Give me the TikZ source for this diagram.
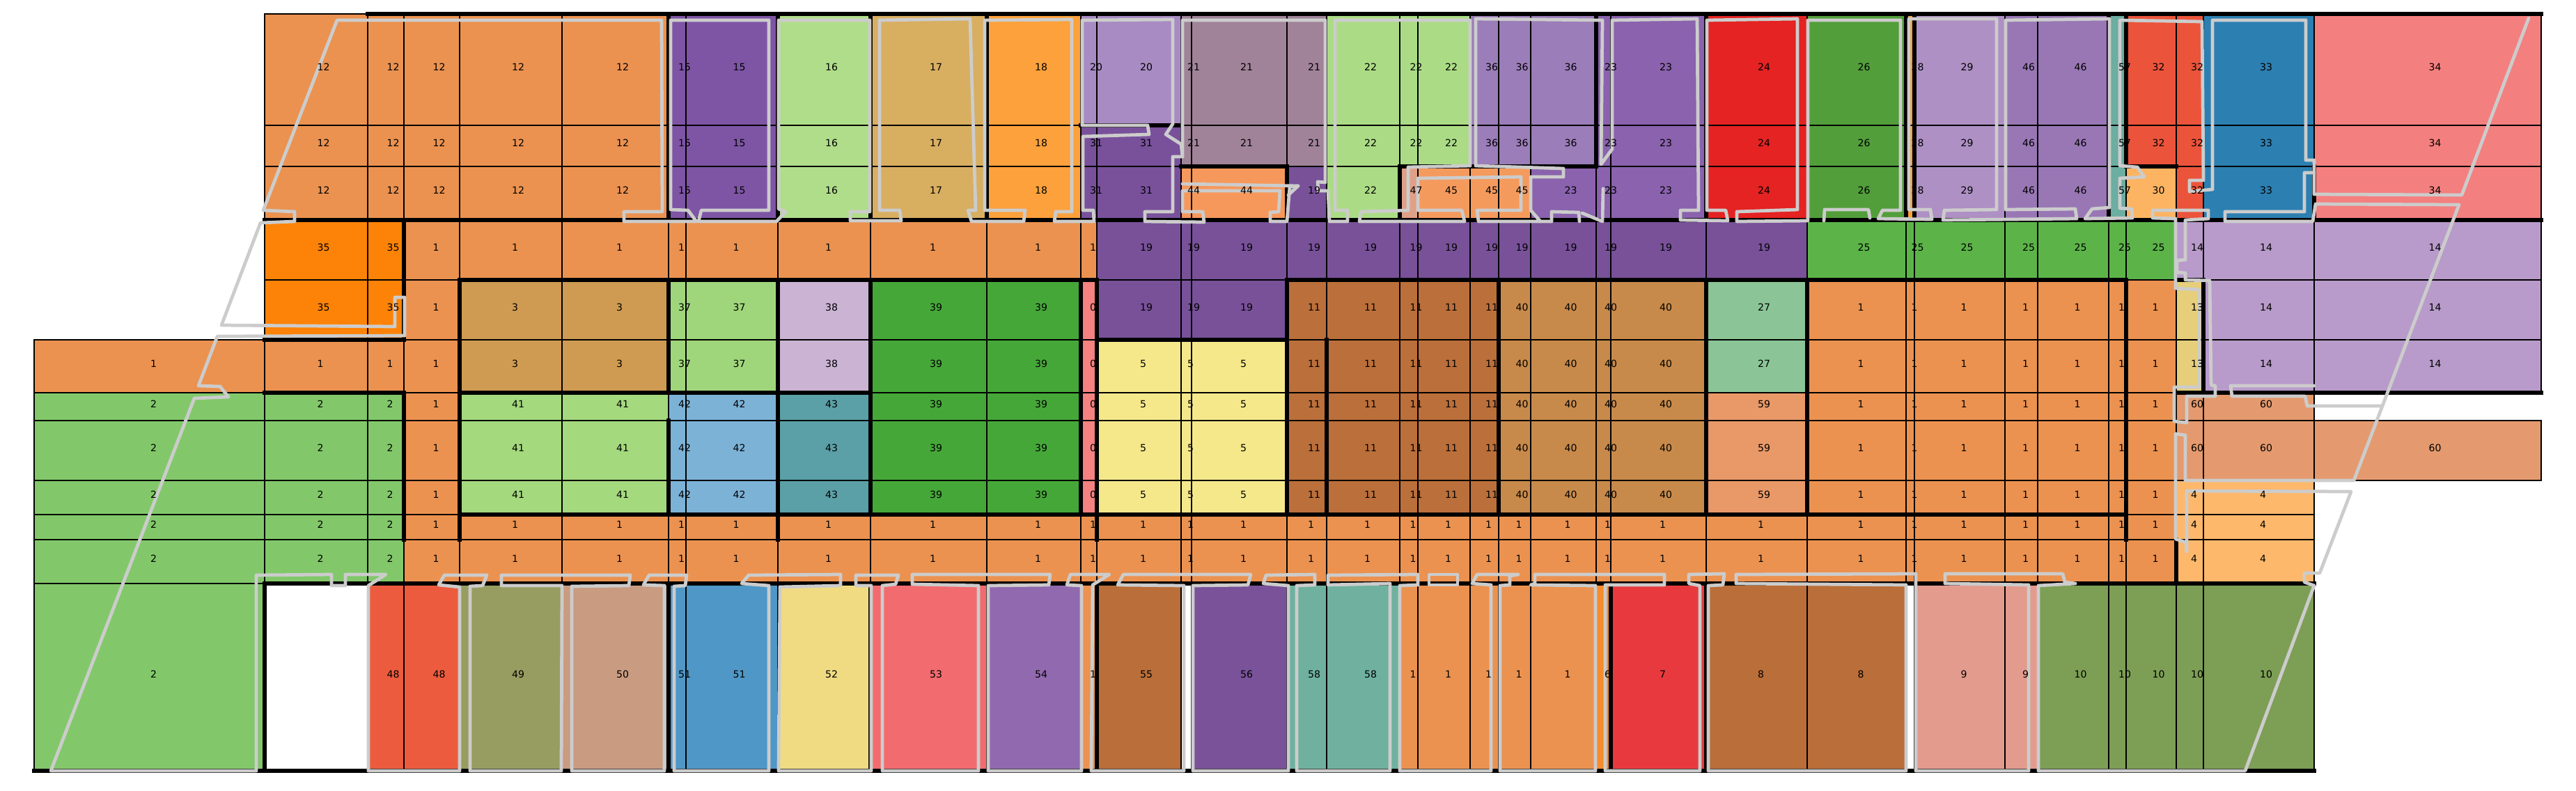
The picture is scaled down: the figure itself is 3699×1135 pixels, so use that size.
\documentclass[tikz,border=0pt]{standalone}
\usepackage{fontspec}
\setmainfont{DejaVu Sans}
\definecolor{L0}{HTML}{F58181}
\definecolor{L1}{HTML}{EB9250}
\definecolor{L2}{HTML}{82C86A}
\definecolor{L3}{HTML}{CF9A51}
\definecolor{L4}{HTML}{FDB86C}
\definecolor{L5}{HTML}{F5E88B}
\definecolor{L6}{HTML}{F68C2E}
\definecolor{L7}{HTML}{E83A3E}
\definecolor{L8}{HTML}{BA6E39}
\definecolor{L9}{HTML}{E39B8D}
\definecolor{L10}{HTML}{7D9E55}
\definecolor{L11}{HTML}{BB6F3A}
\definecolor{L12}{HTML}{EB9250}
\definecolor{L13}{HTML}{E6CE7B}
\definecolor{L14}{HTML}{B89BCA}
\definecolor{L15}{HTML}{7E55A5}
\definecolor{L16}{HTML}{B0DD8A}
\definecolor{L17}{HTML}{D8AE61}
\definecolor{L18}{HTML}{FCA13B}
\definecolor{L19}{HTML}{785199}
\definecolor{L20}{HTML}{A88BC3}
\definecolor{L21}{HTML}{A08399}
\definecolor{L22}{HTML}{ABDC85}
\definecolor{L23}{HTML}{8A62AD}
\definecolor{L24}{HTML}{E42322}
\definecolor{L25}{HTML}{5CB449}
\definecolor{L26}{HTML}{529E3B}
\definecolor{L27}{HTML}{8BC597}
\definecolor{L28}{HTML}{F7A23E}
\definecolor{L29}{HTML}{AE90C4}
\definecolor{L30}{HTML}{FDB462}
\definecolor{L31}{HTML}{79519B}
\definecolor{L32}{HTML}{EB543B}
\definecolor{L33}{HTML}{2C7FB1}
\definecolor{L34}{HTML}{F47F7F}
\definecolor{L35}{HTML}{FC8307}
\definecolor{L36}{HTML}{9B7DB9}
\definecolor{L37}{HTML}{A0D67B}
\definecolor{L38}{HTML}{CBB3D4}
\definecolor{L39}{HTML}{46A739}
\definecolor{L40}{HTML}{C88A4A}
\definecolor{L41}{HTML}{A4D97E}
\definecolor{L42}{HTML}{7DB2D7}
\definecolor{L43}{HTML}{5AA0A6}
\definecolor{L44}{HTML}{F6985B}
\definecolor{L45}{HTML}{F59A5D}
\definecolor{L46}{HTML}{9977B5}
\definecolor{L47}{HTML}{DFA088}
\definecolor{L48}{HTML}{EC5B3E}
\definecolor{L49}{HTML}{979D61}
\definecolor{L50}{HTML}{C99B81}
\definecolor{L51}{HTML}{4F97C7}
\definecolor{L52}{HTML}{F0DB82}
\definecolor{L53}{HTML}{F26B6F}
\definecolor{L54}{HTML}{9169AE}
\definecolor{L55}{HTML}{BA6E39}
\definecolor{L56}{HTML}{795299}
\definecolor{L57}{HTML}{6CAEA1}
\definecolor{L58}{HTML}{6FB19E}
\definecolor{L59}{HTML}{E99868}
\definecolor{L60}{HTML}{E49A6E}
\definecolor{outl}{HTML}{CCCCCC}
\def\XS{{49,380,528,580,660,807,960,985,1117,1250,1417,1552,1575,1696,1711,1848,1905,2010,2036,2111,2152,2198,2292,2313,2450,2595,2737,2749,2879,2926,3028,3053,3125,3164,3323,3649}}
\def\YS{{20,180,239,316,402,488,564,604,690,739,775,838,1107}}
\def\dashmark{-}
\newcommand\cellrow[3]{%
  \foreach \lab [count=\ci from 0] in {#2} {%
    \ifx\lab\dashmark\else
      \pgfmathsetmacro\xa{\XS[\ci]}%
      \pgfmathsetmacro\xb{\XS[\ci+1]}%
      \pgfmathsetmacro\ya{\YS[#1]}%
      \pgfmathsetmacro\yb{\YS[#1+1]}%
      #3%
    \fi
  }%
}
\newcommand\dofill{\filldraw[fill=L\lab, thinln] (\xa,\ya) rectangle (\xb,\yb);}
\newcommand\dolabel{\node[lbl] at ({(\xa+\xb)/2+1},{(\ya+\yb)/2-4}) {\lab};}
\newcommand\allrows[1]{%
\cellrow{0}{-,12,12,12,12,12,15,15,16,17,18,20,20,21,21,21,22,22,22,36,36,36,23,23,24,26,28,29,46,46,57,32,32,33,34}{#1}%
\cellrow{1}{-,12,12,12,12,12,15,15,16,17,18,31,31,21,21,21,22,22,22,36,36,36,23,23,24,26,28,29,46,46,57,32,32,33,34}{#1}%
\cellrow{2}{-,12,12,12,12,12,15,15,16,17,18,31,31,44,44,19,22,47,45,45,45,23,23,23,24,26,28,29,46,46,57,30,32,33,34}{#1}%
\cellrow{3}{-,35,35,1,1,1,1,1,1,1,1,1,19,19,19,19,19,19,19,19,19,19,19,19,19,25,25,25,25,25,25,25,14,14,14}{#1}%
\cellrow{4}{-,35,35,1,3,3,37,37,38,39,39,0,19,19,19,11,11,11,11,11,40,40,40,40,27,1,1,1,1,1,1,1,13,14,14}{#1}%
\cellrow{5}{1,1,1,1,3,3,37,37,38,39,39,0,5,5,5,11,11,11,11,11,40,40,40,40,27,1,1,1,1,1,1,1,13,14,14}{#1}%
\cellrow{6}{2,2,2,1,41,41,42,42,43,39,39,0,5,5,5,11,11,11,11,11,40,40,40,40,59,1,1,1,1,1,1,1,60,60,-}{#1}%
\cellrow{7}{2,2,2,1,41,41,42,42,43,39,39,0,5,5,5,11,11,11,11,11,40,40,40,40,59,1,1,1,1,1,1,1,60,60,60}{#1}%
\cellrow{8}{2,2,2,1,41,41,42,42,43,39,39,0,5,5,5,11,11,11,11,11,40,40,40,40,59,1,1,1,1,1,1,1,4,4,-}{#1}%
\cellrow{9}{2,2,2,1,1,1,1,1,1,1,1,1,1,1,1,1,1,1,1,1,1,1,1,1,1,1,1,1,1,1,1,1,4,4,-}{#1}%
\cellrow{10}{2,2,2,1,1,1,1,1,1,1,1,1,1,1,1,1,1,1,1,1,1,1,1,1,1,1,1,1,1,1,1,1,4,4,-}{#1}%
\cellrow{11}{2,-,48,48,49,50,51,51,52,53,54,1,55,-,56,58,58,1,1,1,1,1,6,7,8,8,-,9,9,10,10,10,10,10,-}{#1}%
}
\begin{document}
\begin{tikzpicture}[x=0.1mm,y=-0.1mm,
  thinln/.style={draw=black,line width=0.35pt},
  thickln/.style={draw=black,line width=1.9pt,line cap=rect},
  grayln/.style={draw=outl,line width=1.35pt,line join=round,line cap=round},
  lbl/.style={anchor=west,inner sep=0pt,font=\fontsize{4}{4}\selectfont}]
\useasboundingbox (0,0) rectangle (3699,1135);
\allrows{\dofill}
\draw[thinln] (380,838) rectangle (528,1107);
% thick horizontal walls
\foreach \jj/\pa/\pb in {0/2/35,3/1/35,5/1/3,6/1/3,6/4/9,6/32/35,4/4/12,4/15/31,4/32/33,5/12/15,9/4/31,11/1/34,12/0/34,1/11/13,2/13/15,2/17/22,2/31/32}{
  \pgfmathsetmacro\ya{\YS[\jj]}\pgfmathsetmacro\xa{\XS[\pa]}\pgfmathsetmacro\xb{\XS[\pb]}
  \draw[thickln] (\xa,\ya) -- (\xb,\ya);
}
% thick vertical walls
\foreach \ii/\pa/\pb in {3/3/5,3/6/10,6/0/3,6/4/6,6/7/9,6/11/12,8/0/3,8/4/10,9/0/3,9/4/9,9/11/12,10/0/3,4/4/10,11/4/9,12/4/10,12/11/12,15/2/3,15/4/9,16/5/9,17/2/3,20/4/9,22/0/2,23/11/12,24/0/3,24/4/9,24/11/12,25/4/9,26/0/3,27/0/3,30/0/3,31/0/2,31/4/10,32/10/11,33/4/6,34/2/3,1/11/12}{
  \pgfmathsetmacro\xa{\XS[\ii]}\pgfmathsetmacro\ya{\YS[\pa]}\pgfmathsetmacro\yb{\YS[\pb]}
  \draw[thickln] (\xa,\ya) -- (\xa,\yb);
}
% grey outlines
\draw[grayln] (423,304) -- (378,302) -- (484,29) -- (950,29) -- (951,304) -- (896,304) -- (896,318) -- (1000,318) -- (988,302) -- (963,301) -- (963,29) -- (1104,29) -- (1104,302) -- (1007,302) -- (1003,318) -- (1115,318) -- (1128,304) -- (1118,300) -- (1118,29) -- (1249,29) -- (1249,304) -- (1221,304) -- (1221,317) -- (1294,317) -- (1292,302) -- (1263,302) -- (1263,29) -- (1393,27) -- (1401,302) -- (1390,302) -- (1395,318) -- (1470,318) -- (1472,302) -- (1414,302) -- (1414,29) -- (1539,28) -- (1539,304) -- (1516,304) -- (1514,318) -- (1571,318) -- (1570,302) -- (1555,302) -- (1555,196) -- (1650,193) -- (1648,180) -- (1554,180) -- (1554,29) -- (1684,28) -- (1684,178) -- (1674,193) -- (1696,207) -- (1698,225) -- (1684,225) -- (1684,304) -- (1644,304) -- (1644,318) -- (1729,319) -- (1727,304) -- (1698,304) -- (1698,274) -- (1838,274) -- (1836,304) -- (1824,305) -- (1824,318) -- (1848,318) -- (1852,268) -- (1864,267);
\draw[grayln] (1698,264) -- (1864,267) -- (1850,280);
\draw[grayln] (1698,225) -- (1698,29) -- (1903,29) -- (1903,262) -- (1892,261) -- (1893,274) -- (1907,274) -- (1909,318) -- (1935,318) -- (1935,302) -- (1917,302) -- (1917,29) -- (2111,29) -- (2111,238) -- (2022,240) -- (2022,302) -- (1954,304) -- (1952,318) -- (2103,318) -- (2099,302) -- (2036,302) -- (2036,256) -- (2184,254) -- (2184,302) -- (2121,302) -- (2123,318) -- (2212,318) -- (2198,302) -- (2198,254) -- (2245,254) -- (2245,242) -- (2119,238) -- (2119,27) -- (2301,29) -- (2299,236) -- (2315,214) -- (2315,29) -- (2437,27) -- (2439,302) -- (2413,302) -- (2413,316) -- (2481,317) -- (2478,302) -- (2451,302) -- (2451,29) -- (2581,27) -- (2581,301) -- (2494,304) -- (2494,318) -- (2596,317) -- (2596,29) -- (2729,29) -- (2729,302) -- (2703,302) -- (2697,314) -- (2774,315) -- (2772,301) -- (2741,301) -- (2741,27) -- (2867,27) -- (2867,301) -- (2792,302) -- (2790,316) -- (2982,314) -- (2980,300) -- (2880,301) -- (2880,29) -- (3029,27) -- (3029,298) -- (3004,300) -- (2994,314) -- (3062,313) -- (3061,300) -- (3044,299) -- (3044,256) -- (3079,254) -- (3069,240) -- (3044,238) -- (3044,29) -- (3162,31) -- (3164,259) -- (3144,259) -- (3144,275) -- (3177,272) -- (3177,29) -- (3311,29) -- (3311,230) -- (3323,230) -- (3323,279) -- (3535,280) -- (3631,26);
\draw[grayln] (2212,318) -- (2228,318) -- (2228,304) -- (2267,305) -- (2268,318);
\draw[grayln] (2272,306) -- (2301,318) -- (2302,271);
\draw[grayln] (2619,317) -- (2620,301) -- (2683,301) -- (2685,313);
\draw[grayln] (3531,294) -- (3325,293) -- (3321,318) -- (3195,318) -- (3195,304) -- (3309,304) -- (3309,248) -- (3323,248);
\draw[grayln] (3138,316) -- (3138,373) -- (3126,374) -- (3126,391) -- (3138,392) -- (3138,402) -- (3173,403) -- (3175,553) -- (3181,554) -- (3181,569) -- (3140,569) -- (3140,607) -- (3122,605) -- (3122,556) -- (3158,556) -- (3158,416) -- (3124,414) -- (3124,314) -- (3091,313) -- (3091,302) -- (3171,302) -- (3171,314) -- cycle;
\draw[grayln] (3531,294) -- (3421,583) -- (3380,690) -- (3138,690) -- (3138,625) -- (3124,623) -- (3124,774) -- (3139,779) -- (3140,792);
\draw[grayln] (3421,583) -- (3313,583) -- (3310,569) -- (3205,569) -- (3203,554) -- (3323,554);
\draw[grayln] (2052,825) rectangle (2093,840);
\draw[grayln] (3140,792) -- (3140,705) -- (3376,706) -- (3331,823) -- (3309,823) -- (3309,836) -- (3323,841) -- (3224,1107) -- (2927,1107) -- (2927,841) -- (2980,838) -- (2965,836) -- (2962,824) -- (2793,824) -- (2793,838) -- (2913,840) -- (2913,1107) -- (2751,1107) -- (2751,824) -- (2493,825) -- (2493,838) -- (2737,840) -- (2737,1107) -- (2453,1107) -- (2453,841) -- (2474,840) -- (2476,824) -- (2425,825) -- (2425,838) -- (2441,841) -- (2441,1107) -- (2305,1107) -- (2305,840) -- (2390,840) -- (2390,825) -- (2204,825) -- (2204,838) -- (2198,840) -- (2291,841) -- (2291,1107) -- (2154,1107) -- (2154,841) -- (2168,840) -- (2168,827) -- (2180,825) -- (2121,825) -- (2114,838) -- (2141,840) -- (2141,1107) -- (2010,1107) -- (2010,841) -- (2036,840) -- (2036,825) -- (1907,826) -- (1907,840) -- (1996,838) -- (1996,1107) -- (1862,1107) -- (1862,841) -- (1888,840) -- (1888,825) -- (1818,826) -- (1814,838) -- (1850,841) -- (1850,1107) -- (1713,1107) -- (1713,841) -- (1792,840) -- (1796,825) -- (1613,825) -- (1605,840) -- (1700,841) -- (1700,1107) -- (1567,1107) -- (1569,840) -- (1593,825) -- (1537,825) -- (1532,840) -- (1553,841) -- (1553,1107) -- (1419,1107) -- (1419,841) -- (1506,840) -- (1508,825) -- (1310,825) -- (1310,839) -- (1405,841) -- (1405,1107) -- (1267,1107) -- (1267,841) -- (1286,839) -- (1290,826) -- (1229,826) -- (1229,841) -- (1251,841) -- (1251,1107) -- (1118,1107) -- (1120,843) -- (1207,841) -- (1207,825) -- (1075,826) -- (1065,838) -- (1104,841) -- (1104,1107) -- (968,1107) -- (968,842) -- (984,841) -- (986,826) -- (932,826) -- (924,840) -- (954,841) -- (954,1107) -- (821,1107) -- (821,842) -- (903,841) -- (905,826) -- (720,826) -- (720,841) -- (807,841) -- (806,1107) -- (675,1107) -- (675,842) -- (693,841) -- (699,826) -- (638,826) -- (630,840) -- (660,843) -- (660,1107) -- (529,1107) -- (529,841) -- (554,825) -- (496,825) -- (496,841) -- (476,841) -- (476,825) -- (368,826) -- (368,1107) -- (73,1107) -- (279,572) -- (328,570) -- (316,555) -- (285,554) -- (312,483) -- (581,482) -- (581,427) -- (567,427) -- (567,469) -- (318,467) -- (374,320) -- (423,318) -- (423,304);
\allrows{\dolabel}
\end{tikzpicture}
\end{document}
